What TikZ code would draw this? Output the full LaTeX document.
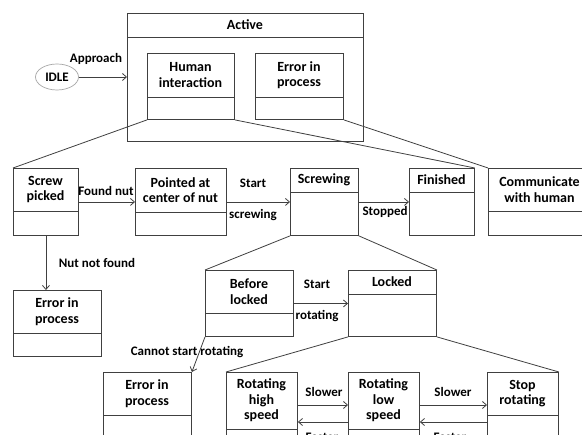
\documentclass[tikz,border=0pt]{standalone}
\usepackage{fontspec}
\setmainfont{Carlito}
\usetikzlibrary{arrows.meta,shapes.geometric}
\definecolor{ln}{HTML}{404040}
\tikzset{
  stat/.style={draw=ln, line width=0.9pt, rectangle, inner sep=0pt, anchor=north west},
  ttl/.style={font=\fontsize{14}{15.5}\selectfont\bfseries, align=center, inner sep=0pt},
  lbl/.style={font=\fontsize{13}{15}\selectfont\bfseries, inner sep=1pt},
  arr/.style={draw=ln, line width=0.8pt, -{Straight Barb[length=4pt,width=7pt]}},
  lnk/.style={draw=ln, line width=0.8pt}
}
% name, x1, y1, x2, y2, ydiv, text
\newcommand\stbox[7]{%
  \node[stat, minimum width={(#4-#2)*1pt}, minimum height={(#5-#3)*1pt}] (#1) at (#2,#3) {};
  \draw[draw=ln, line width=0.9pt] (#2,#6) -- (#4,#6);
  \node[ttl] at ({(#2+#4)/2},{(#3+#6)/2}) {#7};
}
\begin{document}
\begin{tikzpicture}[x=1pt,y=-1pt]
\path[use as bounding box, clip] (0,0) rectangle (582,435);
\fill[white] (0,0) rectangle (582,435);
% Active superstate
\stbox{active}{127}{13}{363}{141}{37}{Active}
\stbox{hi}{147}{53}{234}{119}{97}{Human\\interaction}
\stbox{ea}{255}{53}{343}{119}{97}{Error in\\process}
\node[draw=black!35, line width=0.7pt, ellipse, minimum width=43pt, minimum height=26pt, inner sep=0pt, font=\fontsize{13}{15}\selectfont\bfseries] (idle) at (57,77) {IDLE};
\draw[arr] (idle.east) -- (active.west |- idle.east);
\node[lbl] at (96,59) {Approach};
% second row
\stbox{sp}{13}{168}{78}{235}{211}{Screw\\picked}
\stbox{pc}{135}{168}{226}{235}{212}{Pointed at\\center of nut}
\stbox{sc}{290}{168}{358}{235}{192}{Screwing}
\stbox{fi}{409}{168}{474}{235}{192}{Finished}
\stbox{cm}{488}{168}{591}{235}{211}{Communicate\\with human}
\draw[lnk] (hi.south west) -- (sp.north west);
\draw[lnk] (hi.south east) -- (fi.north east);
\draw[lnk] (ea.south east) -- (cm.north west);
\draw[arr] (sp.east) -- (pc.west);
\node[lbl] at (106,191) {Found nut};
\draw[arr] (pc.east) -- (sc.west);
\node[lbl] at (253,183) {Start};
\node[lbl] at (253,215) {screwing};
\draw[arr] (sc.east) -- (fi.west);
\node[lbl] at (385,212) {Stopped};
% error below screw picked
\stbox{ea1}{13}{290}{101}{356}{333}{Error in\\process}
\draw[arr] (sp.south) -- (sp.south |- ea1.north);
\node[lbl] at (97,263) {Nut not found};
% third row
\stbox{bl}{205}{270}{293}{336}{313}{Before\\locked}
\stbox{lk}{348}{270}{436}{336}{294}{Locked}
\draw[lnk] (sc.south west) -- (bl.north west);
\draw[lnk] (sc.south east) -- (lk.north east);
\draw[arr] (bl.east) -- (lk.west);
\node[lbl] at (317,284) {Start};
\node[lbl] at (317,316) {rotating};
% fourth row
\stbox{ea2}{103}{372}{191}{470}{415}{Error in\\process}
\draw[arr] (bl.south west) -- (ea2.north east);
\node[lbl] at (187,352) {Cannot start rotating};
\stbox{rh}{226}{372}{297}{470}{429}{Rotating\\high\\speed}
\stbox{rl}{348}{372}{419}{470}{429}{Rotating\\low\\speed}
\stbox{sr}{487}{372}{558}{470}{415}{Stop\\rotating}
\draw[lnk] (lk.south west) -- (rh.north west);
\draw[lnk] (lk.south east) -- (sr.north east);
\draw[arr] (rh.east |- 0,405) -- (rl.west |- 0,405);
\draw[arr] (rl.west |- 0,422) -- (rh.east |- 0,422);
\draw[arr] (rl.east |- 0,405) -- (sr.west |- 0,405);
\draw[arr] (sr.west |- 0,422) -- (rl.east |- 0,422);
\node[lbl] at (324,392) {Slower};
\node[lbl] at (453,392) {Slower};
\node[lbl] at (322,437) {Faster};
\node[lbl] at (450,437) {Faster};
\end{tikzpicture}
\end{document}
